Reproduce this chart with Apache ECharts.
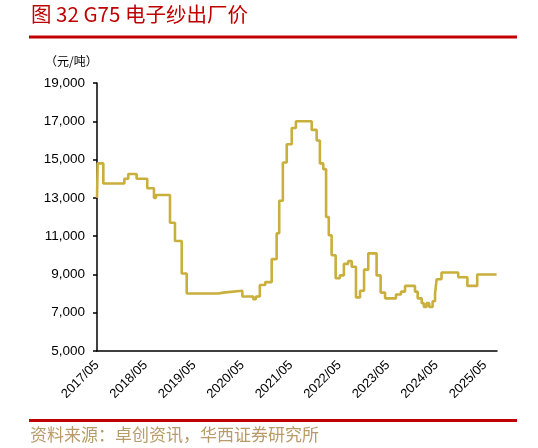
<!DOCTYPE html>
<html>
<head>
<meta charset="utf-8">
<script src="https://cdn.jsdelivr.net/npm/echarts@6/dist/echarts.min.js"></script>
<style>
html,body{margin:0;padding:0;background:#fff;}
#chart{width:538px;height:448px;}
</style>
</head>
<body>
<div id="chart"></div>
<script>
// Change dates (price takes effect from each date) and prices in 元/吨
const dates = [
  "2017-05-01","2017-05-06","2017-06-18","2017-11-24","2017-12-23","2018-02-25",
  "2018-05-14","2018-07-04","2018-07-19","2018-11-03","2018-12-10","2019-01-30",
  "2019-03-07","2019-11-01","2019-12-08","2020-04-30","2020-07-21","2020-08-11",
  "2020-09-10","2020-10-20","2020-12-08","2021-01-15","2021-02-04","2021-03-01",
  "2021-03-30","2021-05-07","2021-06-08","2021-10-05","2021-11-12","2021-12-06",
  "2022-01-01","2022-01-22","2022-02-12","2022-03-03","2022-04-03","2022-05-04",
  "2022-06-04","2022-07-06","2022-08-02","2022-09-04","2022-10-04","2022-11-04",
  "2022-12-05","2023-02-07","2023-03-07","2023-04-10","2023-07-01","2023-08-08",
  "2023-09-08","2023-11-22","2023-12-12","2024-01-12","2024-01-28","2024-02-18",
  "2024-03-08","2024-04-03","2024-04-21","2024-05-03","2024-06-09","2024-10-13",
  "2024-12-21","2025-03-04","2025-07-28"
];
const prices = [
  13000,14800,13750,14000,14250,14000,
  13500,13000,13150,11700,10750,9050,
  8000,8050,8150,7850,7700,7850,
  8450,8600,9800,11150,12850,14850,
  15800,16650,17000,16550,16000,14800,
  14500,12000,11050,10000,8800,8950,
  9550,9700,9400,7800,8150,9250,
  10100,8950,8050,7750,7950,8100,
  8400,8100,7750,7500,7300,7500,
  7300,7600,8000,8750,9100,8850,
  8400,9000,9000
];
const yTicks = [5000, 7000, 9000, 11000, 13000, 15000, 17000, 19000];
const xTickLabels = ["2017/05","2018/05","2019/05","2020/05","2021/05","2022/05","2023/05","2024/05","2025/05"];

// month offset from 2017/05
function monthIndex(s){
  const [y,m,d] = s.split("-").map(Number);
  return (y-2017)*12 + (m-5) + (d-1)/30;
}
const seriesData = dates.map((d,i)=>[monthIndex(d), prices[i]]);

const chart = echarts.init(document.getElementById('chart'), null, {renderer:'canvas'});
const titleFont = '"Noto Sans CJK SC", sans-serif';
chart.setOption({
  backgroundColor:'#ffffff',
  animation:false,
  grid:{left:97, right:41, top:83, bottom:97, containLabel:false},
  xAxis:{
    type:'value', min:0, max:99, interval:12,
    axisLine:{show:true, lineStyle:{color:'#000', width:1.5}},
    axisTick:{show:false},
    splitLine:{show:false},
    axisLabel:{
      rotate:45, margin:12, color:'#000', fontSize:13,
      fontFamily:'Liberation Sans, Arial, sans-serif',
      formatter:(v)=>{ const i = Math.round(v/12); return xTickLabels[i] || ''; }
    }
  },
  yAxis:{
    type:'value', min:yTicks[0], max:yTicks[yTicks.length-1], interval:2000,
    axisLine:{show:true, lineStyle:{color:'#000', width:1.5}},
    axisTick:{show:true, inside:false, length:4, lineStyle:{color:'#000', width:1.5}},
    splitLine:{show:false},
    axisLabel:{
      margin:12, color:'#000', fontSize:13.5,
      fontFamily:'Liberation Sans, Arial, sans-serif',
      formatter:(v)=>v.toLocaleString('en-US')
    }
  },
  series:[{
    type:'line', data:seriesData, step:'end', showSymbol:false,
    lineStyle:{color:'#C9AF3B', width:2.6},
    itemStyle:{color:'#C9AF3B'}
  }],
  graphic:[
    {type:'text', left:31, top:4, style:{text:'图 32 G75 电子纱出厂价', fill:'#C00000', font:'20.5px ' + titleFont}},
    {type:'rect', shape:{x:29, y:35.5, width:488, height:3}, style:{fill:'#C00000'}},
    {type:'text', left:45, top:55, style:{text:'（元/吨）', fill:'#000', font:'12px ' + titleFont}},
    {type:'rect', shape:{x:29, y:419, width:488, height:3}, style:{fill:'#C00000'}},
    {type:'text', left:30, top:426, style:{text:'资料来源：卓创资讯，华西证券研究所', fill:'#B89B68', font:'17px ' + titleFont}}
  ]
});
</script>
</body>
</html>
